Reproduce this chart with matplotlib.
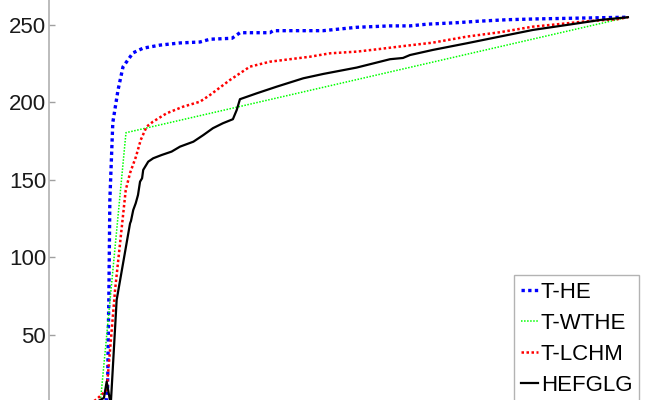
import matplotlib
matplotlib.use('Agg')
import matplotlib.pyplot as plt

# transformation curves (input gray level -> output gray level)
the_x = [0, 15, 22, 25.3, 25.8, 26.4, 26.8, 28.1, 30.4, 32.6, 37, 41.4, 48.9, 57.7, 66.5, 70.9,
         80.6, 84.1, 97.3, 98.7, 120.7, 135.6, 150.2, 159, 166.5, 180.1, 189, 202.1, 214.9, 255]
the_y = [0, 1, 4, 8, 16, 79, 137, 187, 208, 223, 232, 235, 237, 238.4, 239, 240.8,
         241.4, 245, 245, 246.3, 246.3, 248.5, 249.4, 249.4, 250.5, 251.5, 252.4, 253.4, 253.9, 255]

wthe_x = [0, 18, 22, 22.7, 33.9, 255]
wthe_y = [0, 2, 6, 8, 180.5, 255]

lchm_x = [0, 15, 21.1, 25.4, 29.1, 33.8, 35.7, 38.3, 40.4, 43.0, 45.8, 51.8, 59.1, 66.5, 70.9,
          79.7, 88.5, 97.3, 106.1, 114.9, 123.7, 135.6, 144.5, 156.8, 169.1, 184.1, 198.6,
          213.1, 225, 236.9, 250.2, 255]
lchm_y = [0, 2, 8.7, 14.5, 79, 143.5, 154.5, 165, 175.8, 184.4, 187.6, 193, 197.3, 200.5, 204.8,
          214.5, 223.1, 226.3, 227.9, 229.5, 231.7, 232.8, 234.3, 236.5, 238.6, 242.5, 245.3,
          248.9, 250.6, 252.4, 253.7, 255]

hef_x = [0, 15, 24.2, 25.4, 27.2, 29.8, 35.7, 36.1, 37.1, 38.2, 39.2, 40.1, 41, 41.5, 43.7, 45.9,
         49.6, 54, 57.7, 63.6, 68, 72.2, 76.6, 81, 82.7, 84.1, 91.5, 100.3, 112, 120.8, 135.5,
         150.2, 155.9, 159, 169.1, 184.1, 198.6, 213.2, 228.1, 242.7, 255]
hef_y = [0, 2, 9.4, 19.9, 5, 72.6, 122, 123.5, 130.6, 135, 140.3, 148.9, 151.1, 156.5, 161.8, 164,
         166.1, 168.3, 171.5, 174.7, 179, 183.4, 186.6, 189.2, 195.2, 202.1, 205.9, 210.2, 215.6,
         218.4, 222.5, 227.9, 228.7, 230.6, 233.9, 238.2, 242.5, 246.8, 250, 253.2, 255]

yticks = [50, 100, 150, 200, 250]
names = ['T-HE', 'T-WTHE', 'T-LCHM', 'HEFGLG']

plt.rcParams['font.family'] = ['Liberation Sans', 'DejaVu Sans']

fig = plt.figure(figsize=(6.47, 4), dpi=100)
ax = fig.add_axes([49 / 647, 0, 1 - 49 / 647, 1])

ax.plot(the_x, the_y, color=(0, 0, 1), lw=2.4, linestyle=(0, (1, 1)), label=names[0])
ax.plot(wthe_x, wthe_y, color=(0, 1, 0), lw=1.1, linestyle=(0, (1, 1)), label=names[1])
ax.plot(lchm_x, lchm_y, color=(1, 0, 0), lw=1.8, linestyle=(0, (1, 1)), label=names[2])
ax.plot(hef_x, hef_y, color='black', lw=1.6, label=names[3])

ax.set_xlim(0, 263.4)
ax.set_ylim(8.06, 266.1)
ax.set_xticks([])
ax.set_yticks(yticks)
ax.tick_params(axis='y', direction='in', length=4, width=1, color='#a0a0a0',
               labelsize=16, labelcolor='#1a1a1a', pad=2)
for s in ['top', 'right', 'bottom']:
    ax.spines[s].set_visible(False)
ax.spines['left'].set_color('#b0b0b0')
ax.spines['left'].set_linewidth(1.2)

leg = ax.legend(loc='upper left', bbox_to_anchor=(514 / 647, 1 - 275 / 400),
                bbox_transform=fig.transFigure, fontsize=16, frameon=True, fancybox=False,
                edgecolor='#a0a0a0', handlelength=0.8, handletextpad=0.1,
                labelspacing=0.45, borderpad=0.3, borderaxespad=0)
leg.get_frame().set_linewidth(1.0)

fig.savefig('out.png', dpi=100)
